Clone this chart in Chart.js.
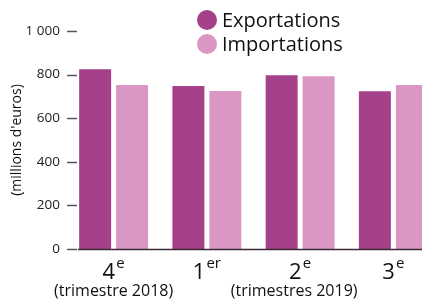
<!DOCTYPE html>
<html>
<head>
<meta charset="utf-8">
<script src="https://cdn.jsdelivr.net/npm/chart.js@4"></script>
<style>
  html, body { margin: 0; padding: 0; background: #fff; overflow: hidden; }
</style>
</head>
<body>
<canvas id="tradeChart" width="440" height="300"></canvas>
<script>
const quarters = ["4", "1", "2", "3"];
const quarterSuffix = ["e", "er", "e", "e"];
const exportations = [825, 748, 797, 724];
const importations = [752, 725, 793, 752];
const yTicks = [0, 200, 400, 600, 800, 1000];

const FONT = "'Open Sans', sans-serif";
const EXPORT_COLOR = "#a5418a";
const IMPORT_COLOR = "#da97c3";

function formatTick(v) {
  return v >= 1000 ? String(v).replace(/\B(?=(\d{3})+(?!\d))/g, " ") : String(v);
}

// tick marks, axis line, x labels and legend
const decorations = {
  id: "decorations",
  afterDraw(chart) {
    const ctx = chart.ctx;
    const x = chart.scales.x;
    const y = chart.scales.y;
    const area = chart.chartArea;
    ctx.save();

    // y tick marks
    ctx.strokeStyle = "#555";
    ctx.lineWidth = 1.5;
    yTicks.forEach((t) => {
      const py = Math.round(y.getPixelForValue(t)) + 0.5;
      ctx.beginPath();
      ctx.moveTo(area.left, py);
      ctx.lineTo(area.left + 10, py);
      ctx.stroke();
    });

    // x axis line
    const y0 = Math.round(y.getPixelForValue(0)) + 0.5;
    ctx.strokeStyle = "#3b2b35";
    ctx.lineWidth = 1.5;
    ctx.beginPath();
    ctx.moveTo(area.left + 11, y0);
    ctx.lineTo(area.right, y0);
    ctx.stroke();

    // quarter labels with superscripts
    ctx.fillStyle = "#111";
    ctx.textBaseline = "alphabetic";
    ctx.textAlign = "left";
    quarters.forEach((q, i) => {
      const cx = x.getPixelForValue(i);
      ctx.font = "22px " + FONT;
      const w1 = ctx.measureText(q).width;
      ctx.font = "15px " + FONT;
      const w2 = ctx.measureText(quarterSuffix[i]).width;
      const start = cx - (w1 + w2 + 1) / 2;
      ctx.font = "22px " + FONT;
      ctx.fillText(q, start, 279);
      ctx.font = "15px " + FONT;
      ctx.fillText(quarterSuffix[i], start + w1 + 1, 268);
    });

    // year notes
    ctx.font = "16px " + FONT;
    ctx.textAlign = "center";
    ctx.fillText("(trimestre 2018)", x.getPixelForValue(0), 296);
    ctx.fillText("(trimestres 2019)", (x.getPixelForValue(1) + x.getPixelForValue(3)) / 2 - 6, 296);

    // legend
    const items = chart.data.datasets;
    const rows = [20, 44];
    items.forEach((ds, i) => {
      ctx.fillStyle = ds.backgroundColor;
      ctx.beginPath();
      ctx.arc(207, rows[i], 10, 0, Math.PI * 2);
      ctx.fill();
      ctx.fillStyle = "#111";
      ctx.font = "20px " + FONT;
      ctx.textAlign = "left";
      ctx.textBaseline = "middle";
      ctx.fillText(ds.label, 222, rows[i] + 1);
    });

    ctx.restore();
  },
};

const ctx = document.getElementById("tradeChart").getContext("2d");
new Chart(ctx, {
  type: "bar",
  data: {
    labels: quarters,
    datasets: [
      {
        label: "Exportations",
        data: exportations,
        backgroundColor: EXPORT_COLOR,
        categoryPercentage: 0.793,
        barPercentage: 0.865,
      },
      {
        label: "Importations",
        data: importations,
        backgroundColor: IMPORT_COLOR,
        categoryPercentage: 0.793,
        barPercentage: 0.865,
      },
    ],
  },
  options: {
    responsive: false,
    animation: false,
    layout: { padding: { top: 31, bottom: 51, left: 0, right: 0 } },
    plugins: {
      legend: { display: false },
      tooltip: { enabled: false },
    },
    scales: {
      x: {
        offset: true,
        grid: { display: false, drawTicks: false },
        border: { display: false },
        ticks: { display: false },
        afterFit(scale) {
          scale.height = 0;
        },
      },
      y: {
        min: 0,
        max: 1000,
        afterBuildTicks(scale) {
          scale.ticks = yTicks.map((v) => ({ value: v }));
        },
        grid: { display: false, drawTicks: false },
        border: { display: false },
        ticks: {
          padding: 7,
          color: "#222",
          font: { family: FONT, size: 13.5 },
          callback: (v) => formatTick(v),
        },
        title: {
          display: true,
          text: "(millions d'euros)",
          color: "#111",
          font: { family: FONT, size: 14 },
          padding: { top: 9, bottom: 0 },
        },
        afterFit(scale) {
          scale.width = 67;
        },
      },
    },
  },
  plugins: [decorations],
});
</script>
</body>
</html>
